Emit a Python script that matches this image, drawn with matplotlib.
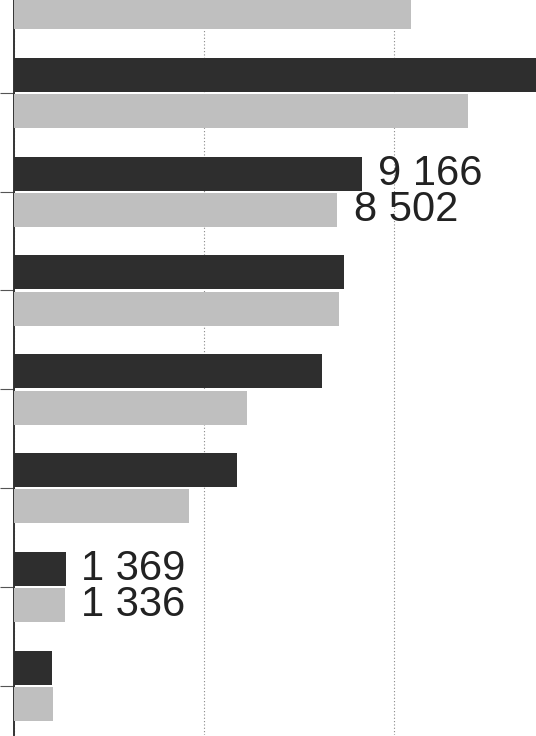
import matplotlib
matplotlib.use("Agg")
import matplotlib.pyplot as plt
import numpy as np

# Data (top category partly cut off)
categories = ["c1", "c2", "c3", "c4", "c5", "c6", "c7", "c8"]
series_dark = [11000, 14300, 9166, 8684, 8105, 5868, 1369, 1010]
series_light = [10450, 11950, 8502, 8553, 6132, 4605, 1336, 1035]
labelled = {2: ("9 166", "8 502"), 6: ("1 369", "1 336")}
x_ticks = [0, 5000, 10000, 15000]

DARK = "#2e2e2e"
LIGHT = "#bfbfbf"

fig = plt.figure(figsize=(5.36, 7.36), dpi=100)
W, H = 536, 736
# axes placed so that the scan crop is reproduced
left_px, bottom_px, top_px = 14, 735, -55.5
width_px = 15000 * 0.038
ax = fig.add_axes([left_px / W, (H - bottom_px) / H,
                   width_px / W, (bottom_px - top_px) / H])

y = np.arange(len(categories))
h = 0.345
off_d = -0.182
off_l = 0.187
ax.barh(y + off_d, series_dark, height=h, color=DARK, zorder=3)
ax.barh(y + off_l, series_light, height=h, color=LIGHT, zorder=3)

for i, (td, tl) in labelled.items():
    ax.annotate(td, (series_dark[i], y[i] + off_d), xytext=(11, 0),
                textcoords="offset points", va="center", ha="left",
                fontsize=30, family="Liberation Sans", color="#222222")
    ax.annotate(tl, (series_light[i], y[i] + off_l), xytext=(12, 0),
                textcoords="offset points", va="center", ha="left",
                fontsize=30, family="Liberation Sans", color="#222222")

ax.set_xlim(0, 15000)
ax.set_ylim(len(categories) - 0.5, -0.5)
ax.set_xticks(x_ticks)
ax.set_yticks(y)
ax.set_yticklabels([])
ax.set_xticklabels([])
ax.xaxis.grid(True, linestyle=(0, (1, 2)), color="#888888", linewidth=0.8, zorder=0)
ax.tick_params(axis="x", length=0)
ax.tick_params(axis="y", length=10, width=0.8, color="#555555", direction="out")
for s in ["top", "right", "bottom"]:
    ax.spines[s].set_visible(False)
ax.spines["left"].set_color("#333333")
ax.spines["left"].set_linewidth(1.4)
ax.set_facecolor("white")
fig.patch.set_facecolor("white")

fig.savefig("out.png", dpi=100)
